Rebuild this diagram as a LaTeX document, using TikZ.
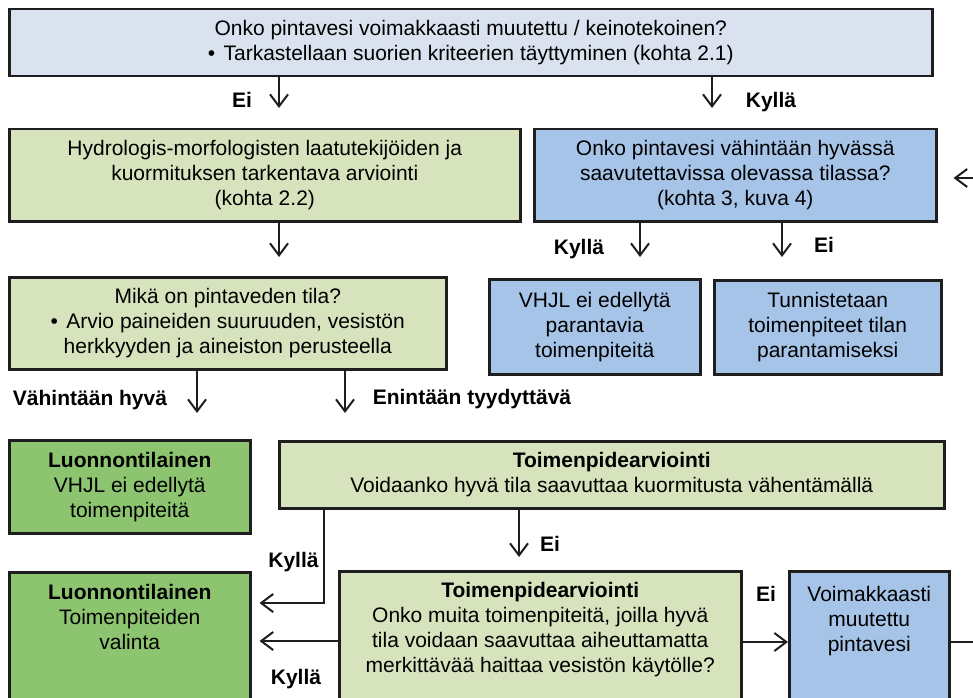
\documentclass[tikz,border=0pt]{standalone}
\usepackage{fontspec}
\setmainfont{Liberation Sans}
\usetikzlibrary{arrows.meta}
\definecolor{paleblue}{HTML}{D9E2EE}
\definecolor{midblue}{HTML}{A6C4E8}
\definecolor{palegreen}{HTML}{D7E3BD}
\definecolor{leafgreen}{HTML}{8DC470}
\definecolor{edge}{HTML}{1E1E1E}
\newcommand{\flowtxt}{\fontsize{21bp}{25bp}\selectfont}

\begin{document}
\begin{tikzpicture}[x=1bp, y=-1bp,
  box/.style={draw=edge, line width=2.5bp, rectangle, anchor=north west, align=center, font=\flowtxt, inner sep=0pt},
  topbox/.style={box, fill=paleblue},
  bluebox/.style={box, fill=midblue},
  greenbox/.style={box, fill=palegreen},
  leafbox/.style={box, fill=leafgreen},
  toptxt/.style={align=center, font=\flowtxt, inner sep=0pt, anchor=north},
  answer/.style={font=\flowtxt\bfseries, inner sep=0pt, anchor=base},
  arr/.style={line width=2bp, draw=edge, -{Straight Barb[length=12bp, width=18bp]}}]
\useasboundingbox (0,0) rectangle (973,698);
\clip (0,0) rectangle (973,698);

\node[topbox, minimum width=923bp, minimum height=67bp] (Q1) at (8,8) {Onko pintavesi voimakkaasti muutettu / keinotekoinen?\\•\hspace{0.4em}Tarkastellaan suorien kriteerien täyttyminen (kohta 2.1)};
\node[greenbox, minimum width=511bp, minimum height=92bp] (HM) at (8,128) {Hydrologis-morfologisten laatutekijöiden ja\\kuormituksen tarkentava arviointi\\(kohta 2.2)};
\node[bluebox, minimum width=402bp, minimum height=92bp] (Q2) at (533,128) {Onko pintavesi vähintään hyvässä\\saavutettavissa olevassa tilassa?\\(kohta 3, kuva 4)};
\node[greenbox, minimum width=437bp, minimum height=92bp] (TL) at (8,276) {Mikä on pintaveden tila?\\•\hspace{0.4em}Arvio paineiden suuruuden, vesistön\\herkkyyden ja aineiston perusteella};
\node[bluebox, minimum width=211bp, minimum height=95bp] (VH) at (488,278) {VHJL ei edellytä\\parantavia\\toimenpiteitä};
\node[bluebox, minimum width=227bp, minimum height=94bp] (TU) at (713,279) {Tunnistetaan\\toimenpiteet tilan\\parantamiseksi};
\node[leafbox, minimum width=241bp, minimum height=93bp] (LT1) at (8,439) {\textbf{Luonnontilainen}\\VHJL ei edellytä\\toimenpiteitä};
\node[greenbox, minimum width=665bp, minimum height=67bp] (TA1) at (278,440) {\textbf{Toimenpidearviointi}\\Voidaanko hyvä tila saavuttaa kuormitusta vähentämällä};
\node[leafbox, minimum width=241bp, minimum height=160bp] (LT2) at (8,571) {};
\node[greenbox, minimum width=402bp, minimum height=160bp] (TA2) at (338,570) {};
\node[bluebox, minimum width=160bp, minimum height=160bp] (VM) at (788,570) {};
\node[toptxt] (LT2t) at ([yshift=-13bp]LT2.north) {\textbf{Luonnontilainen}\\Toimenpiteiden\\valinta};
\node[toptxt] (TA2t) at ([yshift=-12bp]TA2.north) {\textbf{Toimenpidearviointi}\\Onko muita toimenpiteitä, joilla hyvä\\tila voidaan saavuttaa aiheuttamatta\\merkittävää haittaa vesistön käytölle?};
\node[toptxt] (VMt) at ([yshift=-16bp]VM.north) {Voimakkaasti\\muutettu\\pintavesi};

\coordinate (inR) at (973,178);
\coordinate (outR) at (973,642);

\draw[arr, shorten >=20bp] (Q1.south -| 279,0) -- (HM.north -| 279,0);
\draw[arr, shorten >=20bp] (Q1.south -| 712,0) -- (Q2.north -| 712,0);
\draw[arr, shorten >=19bp] (HM.south -| 279,0) -- (TL.north -| 279,0);
\draw[arr, shorten >=21bp] (Q2.south -| 640,0) -- (VH.north -| 640,0);
\draw[arr, shorten >=22bp] (Q2.south -| 782,0) -- (TU.north -| 782,0);
\draw[arr, shorten >=26bp] (TL.south -| 197,0) -- (LT1.north -| 197,0);
\draw[arr, shorten >=27bp] (TL.south -| 345,0) -- (TA1.north -| 345,0);
\draw[arr, shorten >=13bp] (TA1.south -| 519,0) -- (TA2.north -| 519,0);
\draw[arr, shorten >=8bp] (TA1.south -| 324,0) |- (LT2.east |- 0,603);
\draw[arr, shorten >=8bp] (TA2.west |- 0,641) -- (LT2.east |- 0,641);
\draw[arr] (TA2.east |- 0,642) -- (VM.west |- 0,642);
\draw[line width=2bp, draw=edge] (VM.east |- outR) -- (outR);
\draw[arr, shorten >=16bp] (inR) -- (Q2.east |- inR);

\node[answer] (a1) at (242,107.5) {Ei};
\node[answer] (a2) at (771,107.5) {Kyllä};
\node[answer] (a3) at (579,254.5) {Kyllä};
\node[answer] (a4) at (824,252.5) {Ei};
\node[answer] (a5) at (90,405.5) {Vähintään hyvä};
\node[answer] (a6) at (472,404.5) {Enintään tyydyttävä};
\node[answer] (a7) at (293.5,567.5) {Kyllä};
\node[answer] (a8) at (296,684.5) {Kyllä};
\node[answer] (a9) at (550,551.5) {Ei};
\node[answer] (a10) at (766,601.5) {Ei};
\end{tikzpicture}
\end{document}
